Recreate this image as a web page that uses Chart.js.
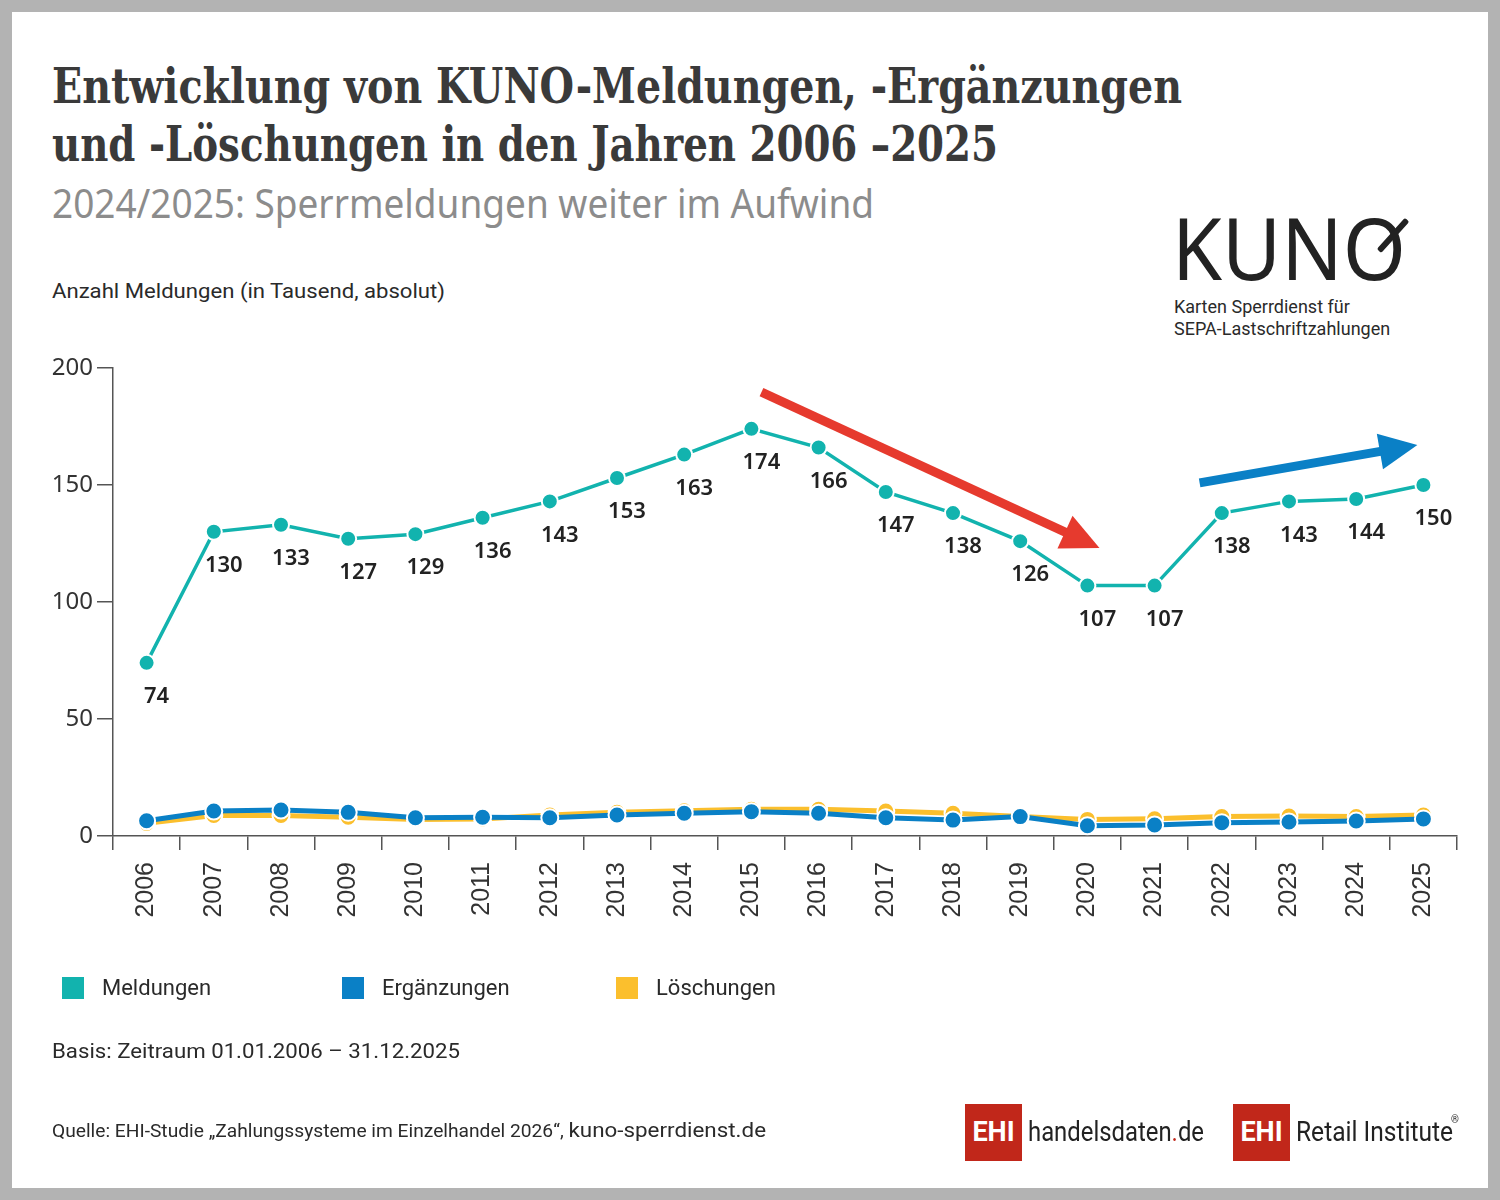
<!DOCTYPE html>
<html lang="de">
<head>
<meta charset="utf-8">
<script src="https://cdn.jsdelivr.net/npm/chart.js@4/dist/chart.umd.min.js"></script>
<style>
  body { margin: 0; width: 1500px; height: 1200px; background: #b3b3b3; position: relative; overflow: hidden; }
  .card { position: absolute; left: 12px; top: 12px; width: 1476px; height: 1176px; background: #fff; }
  #myChart { position: absolute; left: 0; top: 0; }
  .txt { position: absolute; white-space: nowrap; line-height: 1; transform-origin: 0 0; }
  .title { font-family: "DejaVu Serif Condensed", "DejaVu Serif", serif; font-weight: bold; font-size: 48px; color: #3a3a3a; left: 52px; }
  .sub { font-family: "Noto Sans", sans-serif; font-size: 40px; color: #8c8c8c; left: 52px; top: 183px; }
  .sans { font-family: "Roboto", "Noto Sans", sans-serif; color: #2a2a2a; }
  .legend-box { position: absolute; width: 22px; height: 22px; top: 977px; }
  .ehi { position: absolute; top: 1104px; width: 57px; height: 57px; background: #c1271a; color: #fff;
         font-family: "Roboto", sans-serif; font-weight: bold; font-size: 27px; line-height: 57px; text-align: center; }
  .pen { position: absolute; left: 1379px; top: 248px; width: 42px; height: 6px; background: #222;
         transform: rotate(-48deg); transform-origin: 0 50%; border-radius: 2px; }
</style>
</head>
<body>
<div class="card"></div>

<div class="txt title" style="top:62px" data-w="1130">Entwicklung von KUNO-Meldungen, -Ergänzungen</div>
<div class="txt title" style="top:120px" data-w="946">und -Löschungen in den Jahren 2006 –2025</div>
<div class="txt sub" data-w="822">2024/2025: Sperrmeldungen weiter im Aufwind</div>

<div class="txt sans" style="left:1172px; top:204px; font-family:'Noto Sans',sans-serif; font-weight:400; font-size:86px; color:#222;" data-w="234">KUNO</div>
<div class="pen"></div>
<div class="txt sans" style="left:1174px; top:298px; font-size:18px;">Karten Sperrdienst für</div>
<div class="txt sans" style="left:1174px; top:320px; font-size:18px;">SEPA-Lastschriftzahlungen</div>

<div class="txt sans" style="left:52px; top:281px; font-size:20px;" data-w="393">Anzahl Meldungen (in Tausend, absolut)</div>

<canvas id="myChart" width="1500" height="1200"></canvas>

<div class="legend-box" style="left:62px; background:#12b3ae"></div>
<div class="txt sans" style="left:102px; top:977px; font-size:22px;">Meldungen</div>
<div class="legend-box" style="left:342px; background:#0a80c6"></div>
<div class="txt sans" style="left:382px; top:977px; font-size:22px;">Ergänzungen</div>
<div class="legend-box" style="left:616px; background:#fbbf2d"></div>
<div class="txt sans" style="left:656px; top:977px; font-size:22px;">Löschungen</div>

<div class="txt sans" style="left:52px; top:1041px; font-size:21px;" data-w="408">Basis: Zeitraum 01.01.2006 – 31.12.2025</div>
<div class="txt sans" style="left:52px; top:1120px; font-size:18px;" data-w="714">Quelle: EHI-Studie „Zahlungssysteme im Einzelhandel 2026“, <span style="font-size:21px">kuno-sperrdienst.de</span></div>

<div class="ehi" style="left:965px">EHI</div>
<div class="txt sans" style="left:1028px; top:1119px; font-size:27px; color:#222;" data-w="176">handelsdaten<span style="color:#c1271a">.</span>de</div>
<div class="ehi" style="left:1233px">EHI</div>
<div class="txt sans" style="left:1296px; top:1119px; font-size:27px; color:#222;" data-w="157">Retail Institute</div>
<div class="txt sans" style="left:1451px; top:1115px; font-size:10px;">®</div>

<script>
const years = ["2006", "2007", "2008", "2009", "2010", "2011", "2012", "2013", "2014", "2015",
               "2016", "2017", "2018", "2019", "2020", "2021", "2022", "2023", "2024", "2025"];
const meldungen = [74, 130, 133, 127, 129, 136, 143, 153, 163, 174, 166, 147, 138, 126, 107, 107, 138, 143, 144, 150];
const ergaenzungen = [6.5, 10.7, 11.1, 10.1, 7.8, 8.0, 7.8, 9.0, 9.7, 10.4, 9.7, 7.8, 6.8, 8.3, 4.4, 4.7, 5.7, 6.0, 6.4, 7.3];
const loeschungen = [5.4, 8.8, 8.8, 8.0, 7.1, 7.3, 9.0, 10.1, 10.8, 11.4, 11.4, 10.7, 9.7, 8.3, 7.1, 7.4, 8.3, 8.5, 8.3, 9.0];
const yTicks = [0, 50, 100, 150, 200];
// Trendpfeile: [Startindex, Startwert, Endindex, Endwert]
const arrowDown = [9.15, 189.7, 14.18, 123.1];
const arrowUp = [15.67, 150.9, 18.91, 167.1];

// Breite der Texte an die Vorlage anpassen
document.querySelectorAll("[data-w]").forEach(el => {
    const w = el.getBoundingClientRect().width;
    el.style.transform = "scaleX(" + (Number(el.dataset.w) / w) + ")";
});

const valueLabels = {
    id: "valueLabels",
    afterDatasetsDraw(chart) {
        const c = chart.ctx;
        const meta = chart.getDatasetMeta(0);
        c.save();
        c.font = "600 22px 'Noto Sans', sans-serif";
        c.fillStyle = "#222";
        c.textAlign = "center";
        c.textBaseline = "middle";
        meta.data.forEach((pt, i) => {
            c.fillText(String(meldungen[i]), pt.x + 10, pt.y + 34);
        });
        c.restore();
    }
};

function drawArrow(chart, a, color) {
    const xs = chart.scales.x, ys = chart.scales.y, c = chart.ctx;
    const x1 = xs.getPixelForValue(a[0]), y1 = ys.getPixelForValue(a[1]);
    const x2 = xs.getPixelForValue(a[2]), y2 = ys.getPixelForValue(a[3]);
    const ang = Math.atan2(y2 - y1, x2 - x1);
    const head = 38, half = 18;
    const bx = x2 - head * Math.cos(ang), by = y2 - head * Math.sin(ang);
    c.save();
    c.strokeStyle = color;
    c.fillStyle = color;
    c.lineWidth = 9;
    c.beginPath();
    c.moveTo(x1, y1);
    c.lineTo(bx + 2 * Math.cos(ang), by + 2 * Math.sin(ang));
    c.stroke();
    c.beginPath();
    c.moveTo(x2, y2);
    c.lineTo(bx + half * Math.sin(ang), by - half * Math.cos(ang));
    c.lineTo(bx - half * Math.sin(ang), by + half * Math.cos(ang));
    c.closePath();
    c.fill();
    c.restore();
}

const arrows = {
    id: "arrows",
    afterDatasetsDraw(chart) {
        drawArrow(chart, arrowDown, "#e63a2e");
        drawArrow(chart, arrowUp, "#0a80c6");
    }
};

const ctx = document.getElementById("myChart").getContext("2d");
new Chart(ctx, {
    type: "line",
    data: {
        labels: years,
        datasets: [{
            label: "Meldungen",
            data: meldungen,
            borderColor: "#12b3ae",
            backgroundColor: "#12b3ae",
            borderWidth: 3.5,
            pointRadius: 8,
            pointBorderColor: "#fff",
            pointBorderWidth: 2,
            fill: false
        }, {
            label: "Ergänzungen",
            data: ergaenzungen,
            borderColor: "#0a80c6",
            backgroundColor: "#0a80c6",
            borderWidth: 5,
            pointRadius: 8.5,
            pointBorderColor: "#fff",
            pointBorderWidth: 2,
            fill: false
        }, {
            label: "Löschungen",
            data: loeschungen,
            borderColor: "#fbbf2d",
            backgroundColor: "#fbbf2d",
            borderWidth: 5,
            pointRadius: 8.5,
            pointBorderColor: "#fff",
            pointBorderWidth: 2,
            fill: false
        }]
    },
    options: {
        responsive: false,
        animation: false,
        layout: { padding: { top: 368, right: 43, left: 0, bottom: 0 } },
        plugins: {
            legend: { display: false },
            tooltip: { enabled: false }
        },
        scales: {
            x: {
                offset: true,
                afterFit: s => { s.height = 364; },
                grid: { offset: true, drawOnChartArea: false, tickLength: 14, color: "#555", lineWidth: 1.5 },
                border: { color: "#555", width: 1.5 },
                ticks: {
                    minRotation: 90, maxRotation: 90, padding: 12,
                    color: "#333",
                    font: { family: "'Liberation Sans', Arial, sans-serif", size: 25 }
                }
            },
            y: {
                min: 0, max: 200,
                afterFit: s => { s.width = 113; },
                afterBuildTicks: s => { s.ticks = yTicks.map(v => ({ value: v })); },
                grid: { drawOnChartArea: false, tickLength: 16, color: "#555", lineWidth: 1.5 },
                border: { color: "#555", width: 1.5 },
                ticks: {
                    padding: 4,
                    color: "#333",
                    font: { family: "'Noto Sans', sans-serif", size: 24 }
                }
            }
        }
    },
    plugins: [valueLabels, arrows]
});
</script>
</body>
</html>
